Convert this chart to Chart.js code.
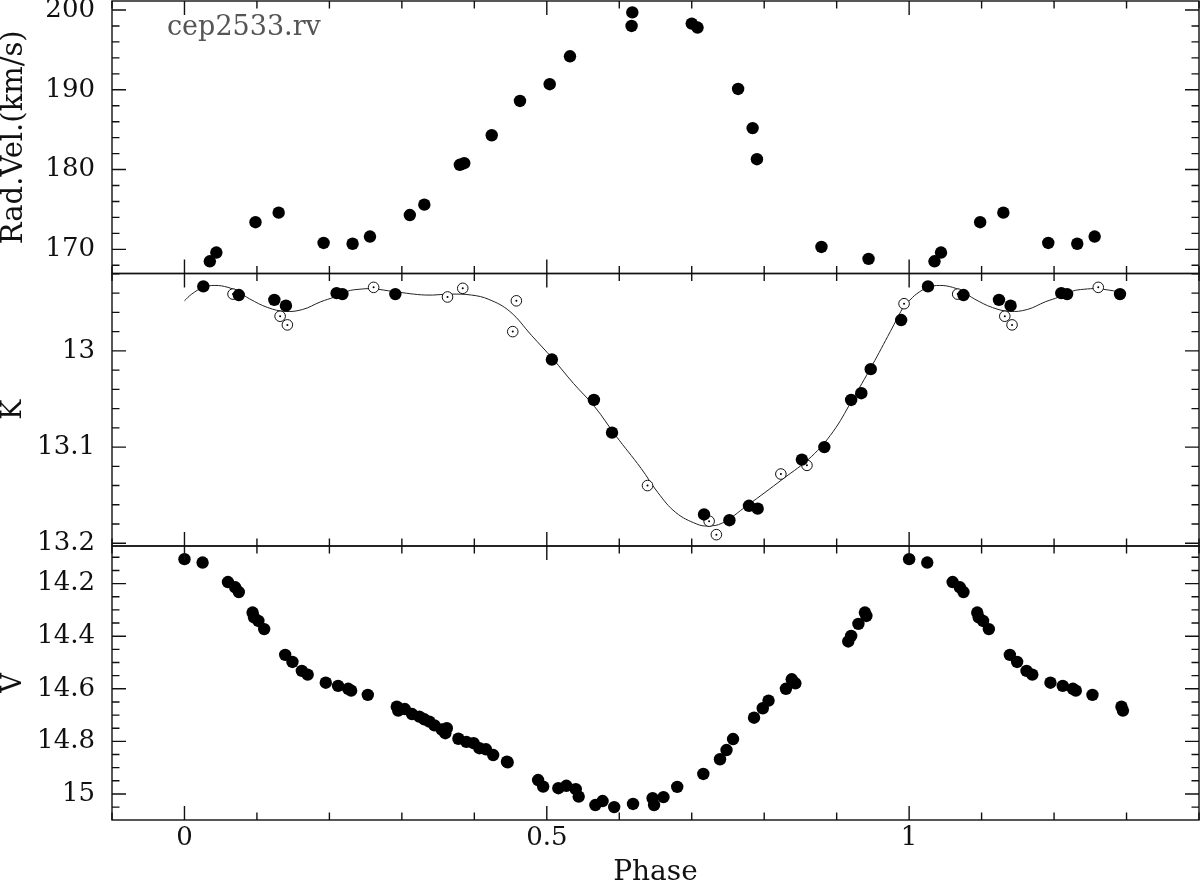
<!DOCTYPE html>
<html>
<head>
<meta charset="utf-8">
<script src="https://cdn.jsdelivr.net/npm/chart.js@4.4.1/dist/chart.umd.min.js"></script>
<style>
  html, body { margin: 0; padding: 0; background: #fff; width: 1200px; height: 881px; overflow: hidden; }
  canvas { position: absolute; left: 0; top: 0; }
  #lbl { position: absolute; left: 167px; top: 12px; font: 27px/27px 'DejaVu Serif', serif; color: #555; white-space: nowrap; }
</style>
</head>
<body>
<canvas id="c1" width="1200" height="881"></canvas>
<canvas id="c2" width="1200" height="881"></canvas>
<canvas id="c3" width="1200" height="881"></canvas>
<div id="lbl">cep2533.rv</div>
<script>
// ---------- tick labels ----------
const xTicks = [0, 0.5, 1];
const xTickLabels = ['0', '0.5', '1'];
const rvTicks = [170, 180, 190, 200];
const rvTickLabels = ['170', '180', '190', '200'];
const kTicks = [13, 13.1, 13.2];
const kTickLabels = ['13', '13.1', '13.2'];
const vTicks = [14.2, 14.4, 14.6, 14.8, 15];
const vTickLabels = ['14.2', '14.4', '14.6', '14.8', '15'];

// ---------- radial velocity ----------
const rvPhase = [0.035, 0.044, 0.098, 0.130, 0.192, 0.232, 0.256, 0.311, 0.331, 0.380, 0.386, 0.424,
                 0.463, 0.504, 0.532, 0.617, 0.618, 0.700, 0.708, 0.764, 0.784, 0.790, 0.879, 0.944];
const rvVel   = [168.5, 169.6, 173.4, 174.6, 170.8, 170.7, 171.6, 174.3, 175.6, 180.6, 180.8, 184.3,
                 188.6, 190.7, 194.2, 198.0, 199.7, 198.3, 197.8, 190.1, 185.2, 181.3, 170.3, 168.8];

// ---------- K band (filled symbols) ----------
const kPhase = [0.026, 0.075, 0.124, 0.140, 0.210, 0.218, 0.291, 0.507, 0.565, 0.590,
                0.717, 0.752, 0.779, 0.791, 0.852, 0.883, 0.920, 0.934, 0.947, 0.989];
const kMag   = [12.933, 12.942, 12.947, 12.953, 12.940, 12.941, 12.941, 13.009, 13.051, 13.085,
                13.170, 13.176, 13.161, 13.164, 13.113, 13.100, 13.051, 13.044, 13.019, 12.968];
// ---------- K band (open symbols) ----------
const kOpenPhase = [0.067, 0.132, 0.142, 0.261, 0.363, 0.384, 0.453, 0.458, 0.639, 0.724, 0.734, 0.823, 0.859, 0.993];
const kOpenMag   = [12.941, 12.964, 12.973, 12.934, 12.944, 12.935, 12.980, 12.948, 13.140, 13.177, 13.191, 13.128, 13.119, 12.951];
// ---------- K band fitted curve ----------
const kFitPhase = [0.000, 0.010, 0.026, 0.042, 0.060, 0.075, 0.090, 0.115, 0.139, 0.163, 0.188, 0.207,
                   0.225, 0.241, 0.260, 0.290, 0.333, 0.367, 0.396, 0.420, 0.449, 0.479, 0.508, 0.537,
                   0.566, 0.595, 0.630, 0.653, 0.678, 0.707, 0.722, 0.742, 0.776, 0.826, 0.865, 0.895,
                   0.920, 0.949, 0.974, 0.994];
const kFitMag   = [12.948, 12.941, 12.934, 12.932, 12.934, 12.939, 12.946, 12.955, 12.959, 12.957, 12.949, 12.944,
                   12.938, 12.936, 12.9355, 12.9385, 12.942, 12.941, 12.942, 12.9465, 12.959, 12.984, 13.008, 13.034,
                   13.058, 13.088, 13.122, 13.147, 13.168, 13.180, 13.182, 13.179, 13.161, 13.133, 13.110, 13.084,
                   13.053, 13.015, 12.980, 12.952];

// ---------- V band ----------
const vPhase = [0.000, 0.025, 0.060, 0.070, 0.075, 0.094, 0.096, 0.102, 0.110, 0.139, 0.149, 0.162, 0.170,
                0.195, 0.212, 0.226, 0.230, 0.253, 0.293, 0.295, 0.304, 0.314, 0.324, 0.331, 0.338, 0.345,
                0.355, 0.360, 0.362, 0.378, 0.389, 0.399, 0.407, 0.416, 0.426, 0.445, 0.446, 0.488, 0.495,
                0.516, 0.527, 0.540, 0.544, 0.567, 0.577, 0.593, 0.619, 0.646, 0.648, 0.661, 0.680, 0.716,
                0.739, 0.748, 0.757, 0.786, 0.798, 0.806, 0.830, 0.838, 0.843, 0.916, 0.920, 0.930, 0.939, 0.941];
const vMag   = [14.107, 14.120, 14.194, 14.214, 14.232, 14.310, 14.328, 14.342, 14.373, 14.471, 14.498, 14.532, 14.546,
                14.577, 14.589, 14.600, 14.607, 14.623, 14.668, 14.683, 14.677, 14.696, 14.706, 14.716, 14.725, 14.739,
                14.755, 14.769, 14.750, 14.790, 14.802, 14.807, 14.826, 14.830, 14.852, 14.877, 14.880, 14.947, 14.972,
                14.978, 14.969, 14.982, 15.010, 15.042, 15.027, 15.050, 15.038, 15.016, 15.042, 15.012, 14.973, 14.924,
                14.868, 14.833, 14.791, 14.710, 14.674, 14.645, 14.600, 14.564, 14.579, 14.420, 14.399, 14.353, 14.310, 14.323];

// Phase-folded plot: observations with phase < 0.3 are shown again at phase + 1.
const REPEAT_BELOW = 0.3;
function folded(ph, val) {
  const pts = ph.map((p, i) => ({ x: p, y: val[i] }));
  ph.forEach((p, i) => { if (p <= REPEAT_BELOW) pts.push({ x: p + 1, y: val[i] }); });
  return pts.sort((a, b) => a.x - b.x);
}

const INK = '#111';
const yTickFont = { family: "'DejaVu Serif', serif", size: 26, lineHeight: 0.5 };
const xTickFont = { family: "'DejaVu Serif', serif", size: 26 };
const ZERO = () => ({ left: 0, top: 0, right: 0, bottom: 0 });

// frame with inward ticks on all four sides of every panel
const framePlugin = {
  id: 'frame',
  afterDraw(chart, args, o) {
    const { ctx, chartArea: a } = chart;
    const x = chart.scales.x, y = chart.scales.y;
    ctx.save();
    ctx.strokeStyle = INK;
    ctx.lineWidth = 1.4;
    ctx.strokeRect(a.left, a.top, a.right - a.left, a.bottom - a.top);
    ctx.beginPath();
    const MAJ = 14, MIN = 7.5;
    {
      const step = o.xMinor, every = o.xEvery;
      const i0 = Math.ceil(x.min / step - 1e-6), i1 = Math.floor(x.max / step + 1e-6);
      for (let i = i0; i <= i1; i++) {
        const px = x.getPixelForValue(i * step);
        const len = (i % every === 0) ? MAJ : MIN;
        ctx.moveTo(px, a.top); ctx.lineTo(px, a.top + len);
        ctx.moveTo(px, a.bottom); ctx.lineTo(px, a.bottom - len);
      }
    }
    {
      const step = o.yMinor, every = o.yEvery;
      const lo = Math.min(y.min, y.max), hi = Math.max(y.min, y.max);
      const i0 = Math.ceil(lo / step - 1e-6), i1 = Math.floor(hi / step + 1e-6);
      for (let i = i0; i <= i1; i++) {
        const py = y.getPixelForValue(i * step);
        const len = (i % every === 0) ? MAJ : MIN;
        ctx.moveTo(a.left, py); ctx.lineTo(a.left + len, py);
        ctx.moveTo(a.right, py); ctx.lineTo(a.right - len, py);
      }
    }
    ctx.stroke();
    ctx.restore();
  }
};

function options(p) {
  return {
    responsive: false,
    animation: false,
    devicePixelRatio: 1,
    events: [],
    layout: { autoPadding: false, padding: { left: 0, right: 1, top: p.top, bottom: 881 - p.bottom - (p.xDisplay ? 61 : 0) } },
    plugins: {
      legend: { display: false },
      tooltip: { enabled: false },
      frame: { xMinor: 0.1, xEvery: 5, yMinor: p.yMinor, yEvery: p.yEvery }
    },
    scales: {
      x: {
        type: 'linear', min: -0.1, max: 1.4,
        display: p.xDisplay,
        grid: { display: false, drawTicks: false },
        border: { display: false },
        afterBuildTicks: s => { s.ticks = xTicks.map(v => ({ value: v })); },
        ticks: { callback: (v, i) => xTickLabels[i], font: xTickFont, color: INK, padding: 3, maxRotation: 0, autoSkip: false },
        title: { display: p.xDisplay, text: 'Phase', font: { family: "'DejaVu Serif', serif", size: 28, lineHeight: 0.6 }, color: INK, padding: 0 },
        afterFit: s => { s.height = p.xDisplay ? 61 : 0; s.paddingLeft = 0; s.paddingRight = 0; s.paddingTop = 0; s.paddingBottom = 0; s.getPadding = ZERO; }
      },
      y: {
        type: 'linear', min: p.yMin, max: p.yMax, reverse: p.reverse,
        grid: { display: false, drawTicks: false },
        border: { display: false },
        afterBuildTicks: s => { s.ticks = p.yTicks.map(v => ({ value: v })); },
        ticks: { callback: (v, i) => p.yLabels[i], font: yTickFont, color: INK, padding: 17, autoSkip: false },
        title: { display: true, text: p.yTitle, font: { family: "'DejaVu Serif', serif", size: p.titleSize, lineHeight: 1 }, color: INK, padding: 0 },
        afterFit: s => { s.width = 112; s.paddingLeft = 0; s.paddingRight = 0; s.paddingTop = 0; s.paddingBottom = 0; s.getPadding = ZERO; }
      }
    }
  };
}

// Panel 1: radial velocity
new Chart(document.getElementById('c1'), {
  type: 'scatter',
  data: { datasets: [
    { data: folded(rvPhase, rvVel), pointRadius: 6.2, backgroundColor: '#000', borderWidth: 0, order: 0 }
  ] },
  options: options({ top: 1, bottom: 273.5, xDisplay: false, yMin: 166.97, yMax: 201.13, reverse: false,
                     yTicks: rvTicks, yLabels: rvTickLabels, yTitle: 'Rad.Vel.(km/s)', titleSize: 29, yMinor: 2, yEvery: 5 }),
  plugins: [framePlugin]
});

// Panel 2: K band
new Chart(document.getElementById('c2'), {
  type: 'scatter',
  data: { datasets: [
    { data: folded(kPhase, kMag), pointRadius: 6.2, backgroundColor: '#000', borderWidth: 0, order: 0 },
    { data: folded(kOpenPhase, kOpenMag), pointRadius: 1, backgroundColor: '#000', borderWidth: 0, order: 1 },
    { data: folded(kOpenPhase, kOpenMag), pointRadius: 5.3, backgroundColor: '#fff', borderColor: '#111', borderWidth: 1, order: 2 },
    { data: folded(kFitPhase, kFitMag), showLine: true, pointRadius: 0, borderColor: '#222', borderWidth: 1, tension: 0.4, order: 3 }
  ] },
  options: options({ top: 273.5, bottom: 546, xDisplay: false, yMin: 12.9196, yMax: 13.2028, reverse: true,
                     yTicks: kTicks, yLabels: kTickLabels, yTitle: 'K', titleSize: 27, yMinor: 0.02, yEvery: 5 }),
  plugins: [framePlugin]
});

// Panel 3: V band
new Chart(document.getElementById('c3'), {
  type: 'scatter',
  data: { datasets: [
    { data: folded(vPhase, vMag), pointRadius: 6.2, backgroundColor: '#000', borderWidth: 0, order: 0 }
  ] },
  options: options({ top: 546, bottom: 820, xDisplay: true, yMin: 14.057, yMax: 15.099, reverse: true,
                     yTicks: vTicks, yLabels: vTickLabels, yTitle: 'V', titleSize: 27, yMinor: 0.05, yEvery: 4 }),
  plugins: [framePlugin]
});
</script>
</body>
</html>
